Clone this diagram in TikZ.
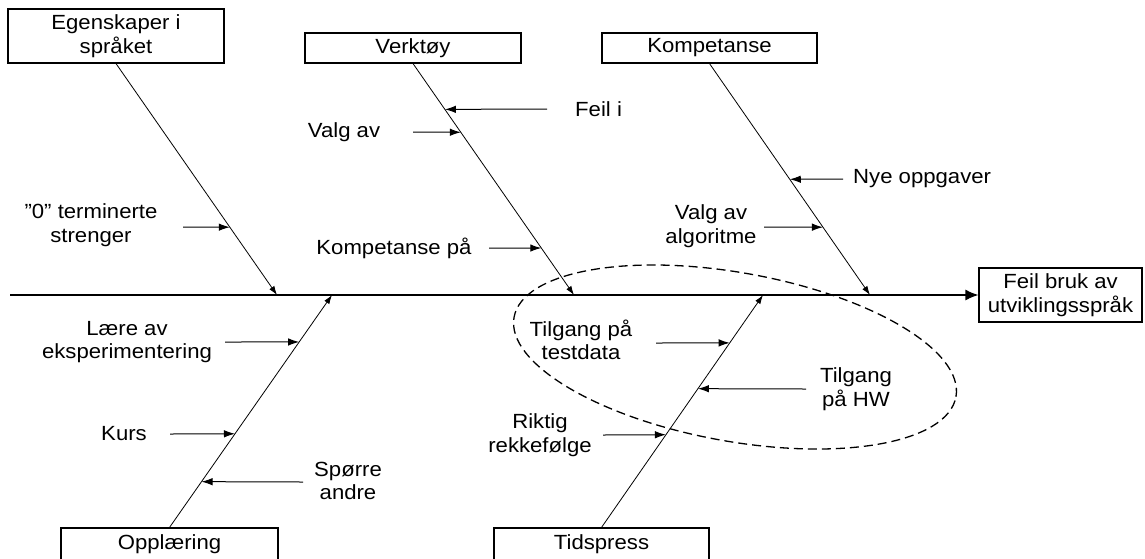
\documentclass[tikz,border=0pt]{standalone}
\usepackage{fontspec}
\setmainfont{Liberation Sans}[FakeStretch=1.08]
\usetikzlibrary{arrows.meta,calc}
\begin{document}
\begin{tikzpicture}[x=1pt,y=-1pt,
  every node/.style={font=\fontsize{20.5}{23.5}\selectfont},
  box/.style={draw,line width=1.1pt,rectangle,inner sep=0pt,align=center},
  lbl/.style={align=center,inner sep=0pt},
  bone/.style={line width=0.8pt,-{Latex[length=9pt,width=6pt]}},
  arr/.style={line width=1pt,-{Latex[length=11pt,width=7.5pt]}},
  spine/.style={line width=1.4pt,-{Latex[length=13pt,width=11pt]}}]
\useasboundingbox (0,0) rectangle (1145,558);
\clip (0,0) rectangle (1145,558);
% boxes
\node[box,minimum width=216pt,minimum height=54pt] (egen) at (116,36) {Egenskaper i\\språket};
\node[box,minimum width=216pt,minimum height=30pt] (verk) at (413,48) {Verktøy};
\node[box,minimum width=215pt,minimum height=30pt] (komp) at (709.5,48) {Kompetanse};
\node[box,minimum width=163pt,minimum height=54pt] (feil) at (1060.5,295) {Feil bruk av\\utviklingsspråk};
\node[box,minimum width=217pt,minimum height=32pt] (oppl) at (169.5,544) {Opplæring};
\node[box,minimum width=215pt,minimum height=32pt] (tids) at (601.5,544) {Tidspress};
% spine
\coordinate (s0) at (10,295);
\coordinate (s1) at (277,295);
\coordinate (s2) at (574,295);
\coordinate (s3) at (870,295);
\coordinate (s4) at (332,295);
\coordinate (s5) at (763,295);
\draw[spine] (s0) -- (feil.west);
% bones
\draw[bone] (egen.south) -- (s1);
\draw[bone] (verk.south) -- (s2);
\draw[bone] (komp.south) -- (s3);
\draw[bone] (oppl.north) -- (s4);
\draw[bone] (tids.north) -- (s5);
% dashed ellipse
\draw[dash pattern=on 9pt off 5pt,line width=1.3pt,rotate around={-10.2:(735,357)}] (735,357) ellipse [x radius=224.5pt, y radius=84.3pt];
% labels
\node[lbl] (l0) at (91,225) {\char34 0\char34\ terminerte\\strenger};
\node[lbl,anchor=west] (lfeil) at (575,109) {Feil i};
\node[lbl] (lvalg) at (344,132) {Valg av};
\node[lbl] (lkomp) at (394,248) {Kompetanse på};
\node[lbl,anchor=west] (lnye) at (853,179) {Nye oppgaver};
\node[lbl] (lalgo) at (711,226) {Valg av\\algoritme};
\node[lbl] (llaere) at (127,342) {Lære av\\eksperimentering};
\node[lbl] (lkurs) at (124,434) {Kurs};
\node[lbl] (lsporre) at (348,481) {Spørre\\andre};
\node[lbl] (ltest) at (581,340) {Tilgang på\\testdata};
\node[lbl] (lhw) at (856,389) {Tilgang\\på HW};
\node[lbl] (lrikt) at (540,435) {Riktig\\rekkefølge};
% arrow starts
\coordinate (a0) at (183,227);
\coordinate (afeil) at (547,109);
\coordinate (avalg) at (413,132);
\coordinate (akomp) at (489,248);
\coordinate (anye) at (843,179);
\coordinate (aalgo) at (764,227);
\coordinate (alaere) at (225,342);
\coordinate (akurs) at (170,434);
\coordinate (asporre) at (303,482);
\coordinate (atest) at (656,343);
\coordinate (ahw) at (806,389);
\coordinate (arikt) at (603,435);
% arrow tips on bones
\coordinate (t0) at ($(egen.south)!0.707!(s1)$);
\coordinate (tfeil) at ($(verk.south)!0.198!(s2)$);
\coordinate (tvalg) at ($(verk.south)!0.297!(s2)$);
\coordinate (tkomp) at ($(verk.south)!0.797!(s2)$);
\coordinate (tnye) at ($(komp.south)!0.5!(s3)$);
\coordinate (talgo) at ($(komp.south)!0.707!(s3)$);
\coordinate (tlaere) at ($(oppl.north)!0.798!(s4)$);
\coordinate (tkurs) at ($(oppl.north)!0.403!(s4)$);
\coordinate (tsporre) at ($(oppl.north)!0.197!(s4)$);
\coordinate (ttest) at ($(tids.north)!0.794!(s5)$);
\coordinate (thw) at ($(tids.north)!0.597!(s5)$);
\coordinate (trikt) at ($(tids.north)!0.399!(s5)$);
\draw[arr] (a0) -- (t0);
\draw[arr] (afeil) -- (tfeil);
\draw[arr] (avalg) -- (tvalg);
\draw[arr] (akomp) -- (tkomp);
\draw[arr] (anye) -- (tnye);
\draw[arr] (aalgo) -- (talgo);
\draw[arr] (alaere) -- (tlaere);
\draw[arr] (akurs) -- (tkurs);
\draw[arr] (asporre) -- (tsporre);
\draw[arr] (atest) -- (ttest);
\draw[arr] (ahw) -- (thw);
\draw[arr] (arikt) -- (trikt);
\end{tikzpicture}
\end{document}
